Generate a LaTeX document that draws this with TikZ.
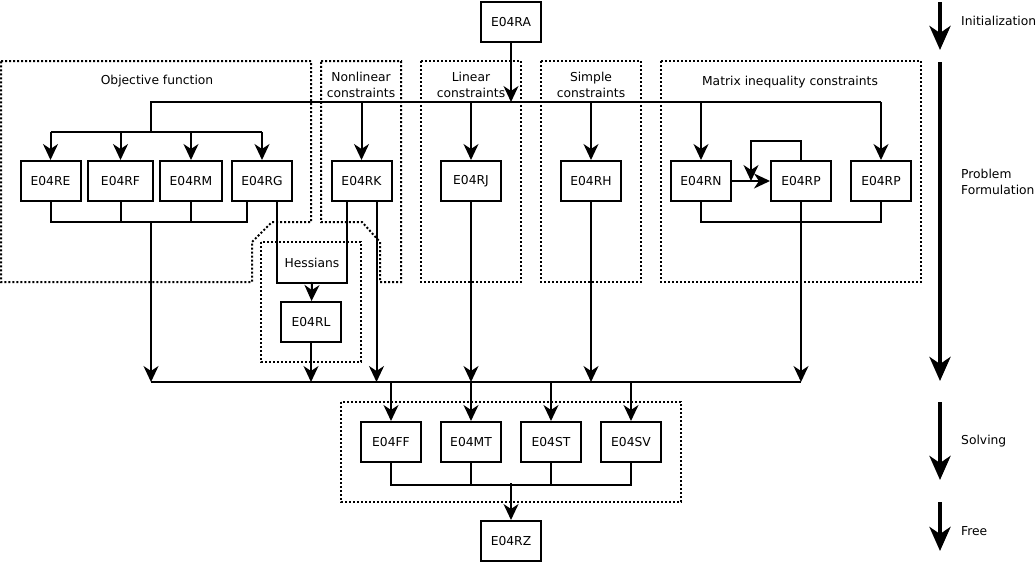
\documentclass[tikz,border=0pt]{standalone}
\usepackage{fontspec}
\setmainfont{DejaVu Sans}
\usetikzlibrary{arrows.meta}
\tikzset{
  box/.style={draw, line width=2pt, minimum width=60pt, minimum height=40pt, inner sep=0pt},
  conn/.style={line width=2pt, -{Stealth[length=16pt,width=15pt,inset=5pt]}},
  wire/.style={line width=2pt},
  group/.style={line width=2pt, dash pattern=on 2pt off 2pt},
  phase/.style={line width=4.5pt, -{Stealth[length=24pt,width=21pt,inset=7pt]}},
  lbl/.style={align=center, inner sep=0pt},
  side/.style={anchor=west, align=left, inner sep=0pt}
}
\begin{document}
\begin{tikzpicture}[x=1pt, y=-1pt, font=\fontsize{12.3}{16}\selectfont]
\useasboundingbox (0,0) rectangle (1036,563);
\draw[group] (1,61) -- (311,61) -- (311,222) -- (272,222) -- (252,242) -- (252,282) -- (1,282) -- cycle;
\draw[group] (321,61) -- (401,61) -- (401,282) -- (380,282) -- (380,242) -- (362,222) -- (321,222) -- cycle;
\draw[group] (261,242) rectangle (361,362);
\draw[group] (421,61) rectangle (521,282);
\draw[group] (541,61) rectangle (641,282);
\draw[group] (661,61) rectangle (921,282);
\draw[group] (341,402) rectangle (681,502);
\node[lbl] (objlbl) at (157,81) {Objective function};
\node[lbl] (nonlbl) at (361,85) {Nonlinear\\constraints};
\node[lbl] (linlbl) at (471,85) {Linear\\constraints};
\node[lbl] (simlbl) at (591,85) {Simple\\constraints};
\node[lbl] (matlbl) at (790,82) {Matrix inequality constraints};
\node[box] (ra) at (511,22) {E04RA};
\node[box] (re) at (50.5,181) {E04RE};
\node[box, minimum width=65pt] (rf) at (120.5,181) {E04RF};
\node[box, minimum width=62pt] (rm) at (191,181) {E04RM};
\node[box] (rg) at (262,181) {E04RG};
\node[box] (rk) at (361.5,181) {E04RK};
\node[box] (rj) at (471,181) {E04RJ};
\node[box] (rh) at (591,181) {E04RH};
\node[box] (rn) at (701,181) {E04RN};
\node[box] (rp) at (801,181) {E04RP};
\node[box] (rpb) at (881,181) {E04RP};
\node[lbl] (hess) at (312,263) {Hessians};
\node[box] (rl) at (311,322) {E04RL};
\node[box] (ff) at (391,442) {E04FF};
\node[box] (mt) at (471,442) {E04MT};
\node[box] (st) at (551,442) {E04ST};
\node[box] (sv) at (631,442) {E04SV};
\node[box] (rz) at (511,541) {E04RZ};
\coordinate (dl) at (151,102);
\coordinate (dr) at (881,102);
\coordinate (split) at (151,132);
\coordinate (om) at (151,221);
\coordinate (hl) at (312,282);
\coordinate (back) at (751,181);
\coordinate (bus) at (0,382);
\coordinate (sm) at (511,483);
\draw[conn] (ra) -- (ra |- dl);
\draw[wire] (split) -- (dl) -- (dr);
\draw[wire] (re.north |- split) -- (rg.north |- split);
\foreach \n in {re,rf,rm,rg}
  \draw[conn] (\n.north |- split) -- (\n);
\foreach \n in {rk,rj,rh,rn,rpb}
  \draw[conn] (\n.north |- dl) -- (\n);
\draw[conn] (rn) -- (rp);
\draw[conn] (rp.north) -- ++(0,-19) -| (back);
\draw[wire] (rn.south) -- ++(0,20) -| (rpb.south);
\draw[wire] (re.south) -- ++(0,20) -| ([xshift=-15pt]rg.south);
\draw[wire] (rf.south) -- (rf.south |- om);
\draw[wire] (rm.south) -- (rm.south |- om);
\draw[wire] ([xshift=15pt]rg.south) -- ++(0,81) -| ([xshift=-15pt]rk.south);
\draw[conn] (hl) -- (rl);
\draw[wire] (om |- bus) -- (rp.south |- bus);
\draw[conn] (om) -- (om |- bus);
\draw[conn] (rl) -- (rl |- bus);
\draw[conn] ([xshift=15pt]rk.south) -- ([xshift=15pt]rk.south |- bus);
\draw[conn] (rj) -- (rj |- bus);
\draw[conn] (rh) -- (rh |- bus);
\draw[conn] (rp) -- (rp |- bus);
\foreach \n in {ff,mt,st,sv}
  \draw[conn] (\n |- bus) -- (\n);
\draw[wire] (ff.south) -- ++(0,22) -| (sv.south);
\draw[wire] (mt.south) -- ++(0,22) -| (st.south);
\draw[conn] (sm) -- (rz);
\draw[phase] (940,2) -- (940,50);
\draw[phase] (940,62) -- (940,381);
\draw[phase] (940,402) -- (940,480);
\draw[phase] (940,502) -- (940,551);
\node[side] (init) at (961,21) {Initialization};
\node[side] (form) at (961,182) {Problem\\Formulation};
\node[side] (solve) at (961,441) {Solving};
\node[side] (free) at (961,531) {Free};
\end{tikzpicture}
\end{document}
